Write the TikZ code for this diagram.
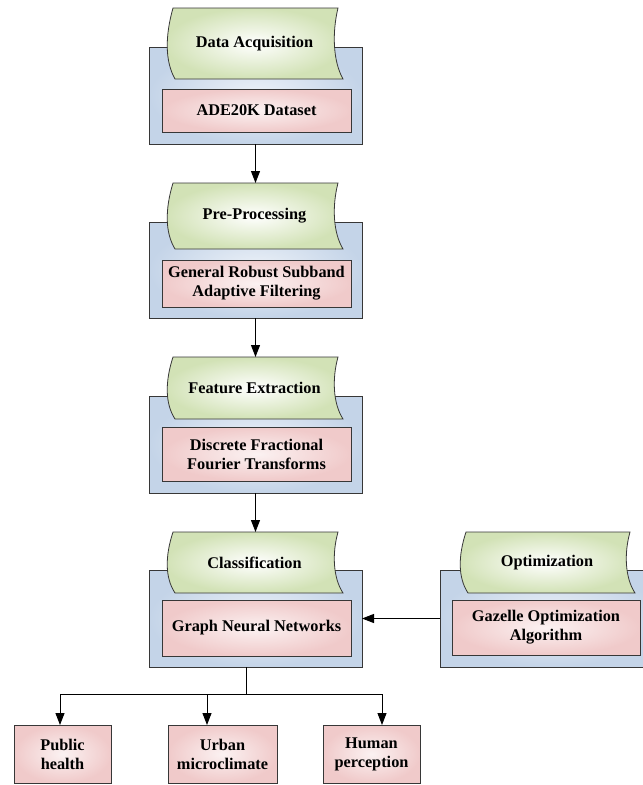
\documentclass[tikz,border=0pt]{standalone}
\usepackage{fontspec}
\setmainfont{Liberation Serif}
\usetikzlibrary{arrows.meta}
\definecolor{bluef}{RGB}{196,212,232}
\definecolor{greenf}{RGB}{210,226,182}
\definecolor{pinkf}{RGB}{240,202,202}
\definecolor{edgec}{RGB}{55,55,55}
\tikzset{
  txt/.style={font=\bfseries\fontsize{16.3}{19}\selectfont, align=center, text=black},
  base/.style={draw=edgec, line width=0.8pt, inner sep=0pt, outer sep=0pt, txt},
  bluebox/.style={base, inner color=bluef!30!white, outer color=bluef},
  pinkbox/.style={base, inner color=pinkf!25!white, outer color=pinkf},
  gtext/.style={txt, inner sep=0pt, outer sep=0pt},
  tapefill/.style={draw=edgec, line width=0.8pt, inner color=white, outer color=greenf},
  arr/.style={draw=black, line width=1pt, -{Triangle[length=12pt,width=9pt]}},
  ln/.style={draw=black, line width=1pt},
}
% #1 name, #2 L, #3 R, #4 T, #5 B, #6 text
\newcommand{\greentape}[6]{%
  \path[tapefill] (#2+7,#4) -- (#3-5,#4)
    .. controls (#3-11,{#4+0.35*(#5-#4)}) and (#3-10,{#4+0.75*(#5-#4)}) .. (#3,#5)
    -- (#2+9,#5)
    .. controls (#2-1,{#5-0.25*(#5-#4)}) and (#2-1,{#4+0.4*(#5-#4)}) .. (#2+7,#4) -- cycle;
  \node[gtext, minimum width={#3-#2}, minimum height={#5-#4}] (#1) at ({(#2+#3)/2},{(#4+#5)/2}) {#6};
}
\begin{document}
\begin{tikzpicture}[x=1pt, y=-1pt]
\clip (0,0) rectangle (643,785);
\fill[white] (0,0) rectangle (643,785);

% Block 1
\node[bluebox, minimum width=213, minimum height=97] (b1) at (255.5,95.5) {};
\greentape{g1}{166}{343}{8}{79}{Data Acquisition}
\node[pinkbox, minimum width=189, minimum height=43] (p1) at (256.5,110.5) {ADE20K Dataset};

% Block 2
\node[bluebox, minimum width=213, minimum height=96] (b2) at (255.5,270) {};
\greentape{g2}{166}{343}{183}{249}{Pre-Processing}
\node[pinkbox, minimum width=189, minimum height=47] (p2) at (256.5,283.5) {General Robust Subband\\Adaptive Filtering};

% Block 3
\node[bluebox, minimum width=213, minimum height=97] (b3) at (255.5,444.5) {};
\greentape{g3}{166}{343}{357}{419}{Feature Extraction}
\node[pinkbox, minimum width=189, minimum height=54] (p3) at (256.5,454) {Discrete Fractional\\Fourier Transforms};

% Block 4
\node[bluebox, minimum width=213, minimum height=97] (b4) at (255.5,618.5) {};
\greentape{g4}{166}{343}{532}{593}{Classification}
\node[pinkbox, minimum width=189, minimum height=56] (p4) at (256.5,628) {Graph Neural Networks};

% Optimization block
\node[bluebox, minimum width=220, minimum height=97] (ob) at (550,618.5) {};
\greentape{og}{459}{635}{532}{593}{Optimization}
\node[pinkbox, minimum width=188, minimum height=55] (op) at (546,627.5) {Gazelle Optimization\\Algorithm};

% Outputs
\node[pinkbox, minimum width=97, minimum height=58] (o1) at (62.5,754) {Public\\health};
\node[pinkbox, minimum width=109, minimum height=58] (o2) at (222.5,754) {Urban\\microclimate};
\node[pinkbox, minimum width=97, minimum height=58] (o3) at (371.5,754) {Human\\perception};

% Connectors
\draw[arr] (b1.south) -- (b1.south |- g2.north);
\draw[arr] (b2.south) -- (b2.south |- g3.north);
\draw[arr] (b3.south) -- (b3.south |- g4.north);
\draw[arr] (ob.west) -- (b4.east);

\coordinate (br) at (246,694);
\coordinate (bl) at (60,694);
\coordinate (bm) at (207,694);
\coordinate (bq) at (382,694);
\draw[ln] (br |- b4.south) -- (br);
\draw[ln] (bl) -- (bq);
\draw[arr] (bl) -- (bl |- o1.north);
\draw[arr] (bm) -- (bm |- o2.north);
\draw[arr] (bq) -- (bq |- o3.north);
\end{tikzpicture}
\end{document}
